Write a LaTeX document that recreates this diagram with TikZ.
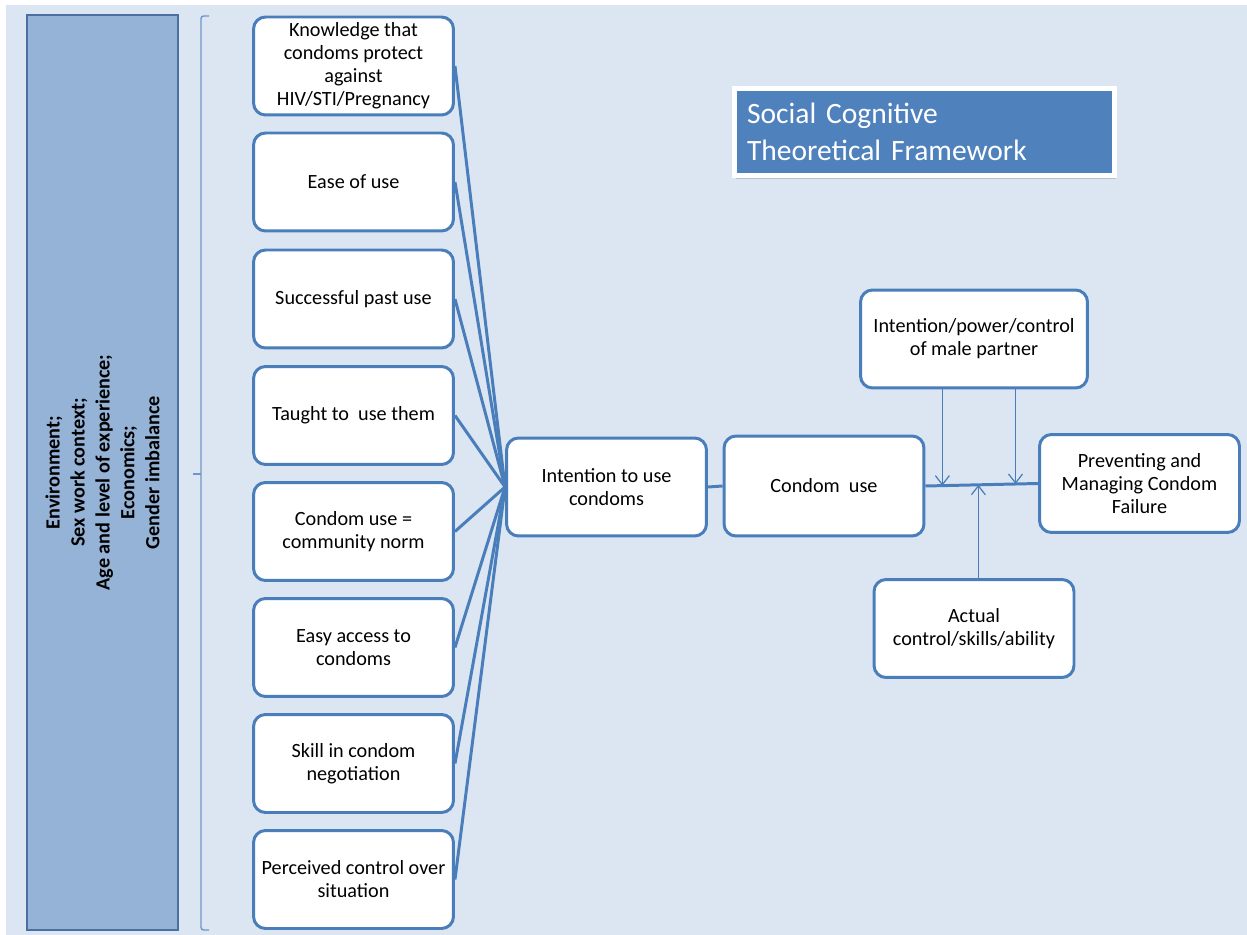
\documentclass[tikz,border=0pt]{standalone}
\usepackage{fontspec}
\setmainfont{Carlito}
\usetikzlibrary{calc}
\usetikzlibrary{arrows.meta}
\usetikzlibrary{shadows}

\definecolor{bgblue}{HTML}{DCE6F2}
\definecolor{colfill}{HTML}{95B3D7}
\definecolor{colline}{HTML}{4A6FA0}
\definecolor{boxline}{HTML}{4A7EBB}
\definecolor{titlefill}{HTML}{4F81BD}
\definecolor{braceline}{HTML}{6F95C8}

\tikzset{
  factor/.style = {draw=boxline, line width=1.7pt, rounded corners=0.24cm, fill=white,
                   align=center, font=\fontsize{11.5}{13.1}\selectfont, inner sep=2pt,
                   minimum width=4.0cm, minimum height=1.96cm},
  link/.style = {draw=boxline, line width=1.7pt},
  thinarrow/.style = {draw=boxline, line width=0.7pt,
                      -{Straight Barb[length=0.18cm,width=0.28cm]}},
}

\begin{document}
\begin{tikzpicture}[x=0.02cm, y=-0.02cm]
    \useasboundingbox (0,0) rectangle (1247,935);
    \fill[bgblue] (6,5) rectangle (1247,935);
    % environment column
    \node[rotate=90, draw=colline, line width=0.8pt, fill=colfill,
          minimum width=18.3cm, minimum height=3.02cm, align=center,
          font=\fontsize{11.5}{14.2}\selectfont\bfseries] (env) at (102.5,472.5)
          {Environment;\\Sex work context;\\Age and level of experience;\\Economics;\\Gender imbalance};
    % brace
    \draw[braceline, line width=0.8pt, rounded corners=1.5pt] (209,16) -- (201,16) -- (201,930) -- (209,930);
    \draw[braceline, line width=0.8pt] (201,474) -- (193,474);
    % factors
    \node[factor] (know) at (353.5,66) {Knowledge that\\condoms protect\\against\\HIV/STI/Pregnancy};
    \node[factor] (ease) at (353.5,182) {Ease of use};
    \node[factor] (past) at (353.5,299) {Successful past use};
    \node[factor] (taught) at (353.5,415.5) {Taught to\ \ use them};
    \node[factor] (norm) at (353.5,531.5) {Condom use =\\community norm};
    \node[factor] (access) at (353.5,647.5) {Easy access to\\condoms};
    \node[factor] (skill) at (353.5,763.5) {Skill in condom\\negotiation};
    \node[factor] (perceived) at (353.5,879.5) {Perceived control over\\situation};
    % middle and right
    \node[factor] (intent) at (606.5,487) {Intention to use\\condoms};
    \node[factor, minimum height=2.0cm] (use) at (824,486) {Condom\ \ use};
    \node[factor, minimum width=4.54cm] (male) at (974,339) {Intention/power/control\\of male partner};
    \node[factor] (prev) at (1139.5,483.5) {Preventing and\\Managing Condom\\Failure};
    \node[factor] (act) at (974,628.5) {Actual\\control/skills/ability};
    % title
    \node[draw=white, line width=2.5pt, fill=titlefill, text=white,
          drop shadow={shadow xshift=0.6pt, shadow yshift=-1.8pt, opacity=0.35},
          minimum height=1.74cm, inner xsep=0.25cm, text width=7.1cm, align=left,
          font=\fontsize{16.8}{21}\selectfont] (title) at (924.5,132)
          {Social Cognitive\\Theoretical Framework};
    % connectors
    \foreach \f in {know,ease,past,taught,norm,access,skill,perceived}
        \draw[link] (\f.east) -- (intent.west);
    \draw[link] (intent.east) -- (use.west);
    \draw[link] (use.east) -- (prev.west);
    \coordinate (j1) at ($(use.east)!0.15!(prev.west)$);
    \coordinate (j2) at ($(use.east)!0.80!(prev.west)$);
    \coordinate (j3) at ($(use.east)!0.47!(prev.west)$);
    \draw[thinarrow] (male.south -| j1) -- (j1);
    \draw[thinarrow] (male.south -| j2) -- (j2);
    \draw[thinarrow] (act.north -| j3) -- (j3);
\end{tikzpicture}
\end{document}
